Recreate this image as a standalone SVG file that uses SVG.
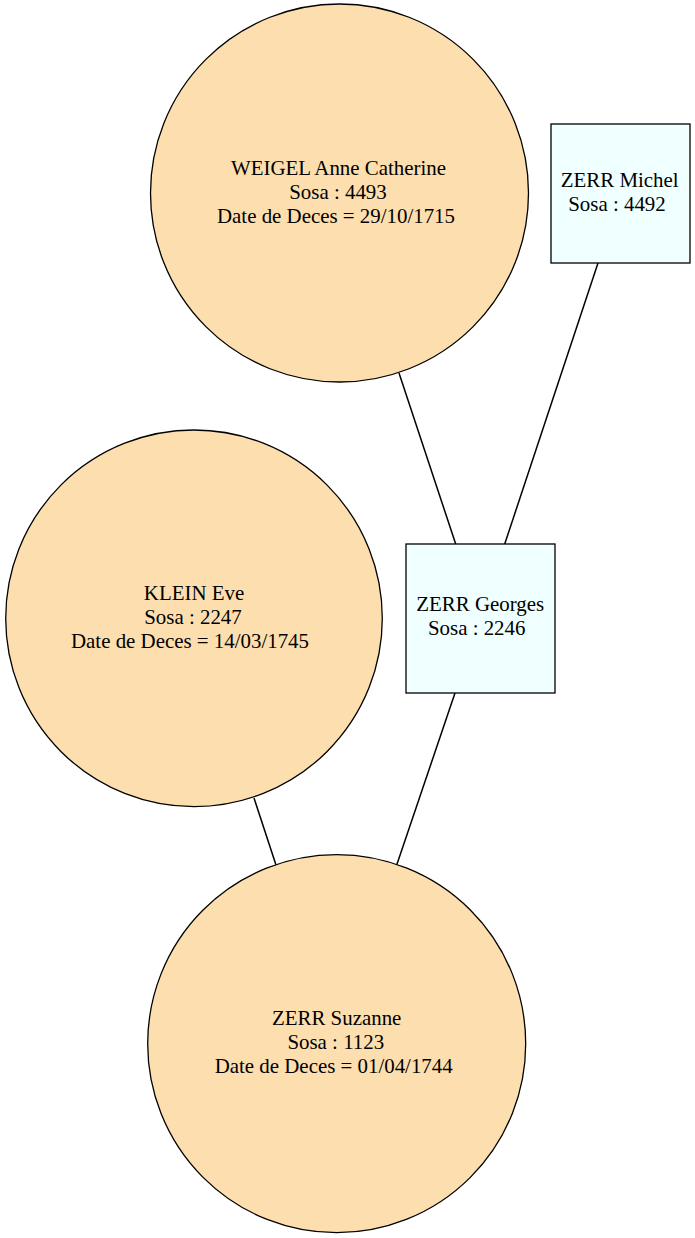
<svg xmlns="http://www.w3.org/2000/svg" width="695" height="1238" viewBox="0 0 695 1238">
<style>
.p{fill:#fddeae;stroke:#000;stroke-width:1.3}
.b{fill:#f0ffff;stroke:#000;stroke-width:1.3}
.e{stroke:#000;stroke-width:1.5;fill:none}
text{font-family:"Liberation Serif","Times New Roman",serif;font-size:20.9px;fill:#000;text-anchor:middle}
</style>
<rect width="695" height="1238" fill="#fff"/>
<g id="edges">
<line class="e" x1="399" y1="373" x2="455.7" y2="544"/>
<line class="e" x1="598" y1="263" x2="504.7" y2="544"/>
<line class="e" x1="455" y1="693" x2="396.7" y2="865"/>
<line class="e" x1="254" y1="798" x2="276" y2="865"/>
</g>
<g id="weigel">
<circle class="p" cx="339.5" cy="193" r="189"/>
<text x="338.5" y="175">WEIGEL Anne Catherine</text>
<text x="338" y="199">Sosa : 4493</text>
<text x="336" y="223">Date de Deces = 29/10/1715</text>
</g>
<g id="michel">
<rect class="b" x="551" y="124" width="139" height="139"/>
<text x="619.7" y="187">ZERR Michel</text>
<text x="617" y="211">Sosa : 4492</text>
</g>
<g id="klein">
<circle class="p" cx="194" cy="618.3" r="188.3"/>
<text x="194" y="600">KLEIN Eve</text>
<text x="193" y="624">Sosa : 2247</text>
<text x="190" y="648">Date de Deces = 14/03/1745</text>
</g>
<g id="georges">
<rect class="b" x="406" y="544" width="149" height="149"/>
<text x="480.2" y="611">ZERR Georges</text>
<text x="476.7" y="635">Sosa : 2246</text>
</g>
<g id="suzanne">
<circle class="p" cx="336.7" cy="1043.7" r="189"/>
<text x="336.7" y="1025">ZERR Suzanne</text>
<text x="335.8" y="1049">Sosa : 1123</text>
<text x="333.7" y="1073">Date de Deces = 01/04/1744</text>
</g>
</svg>
